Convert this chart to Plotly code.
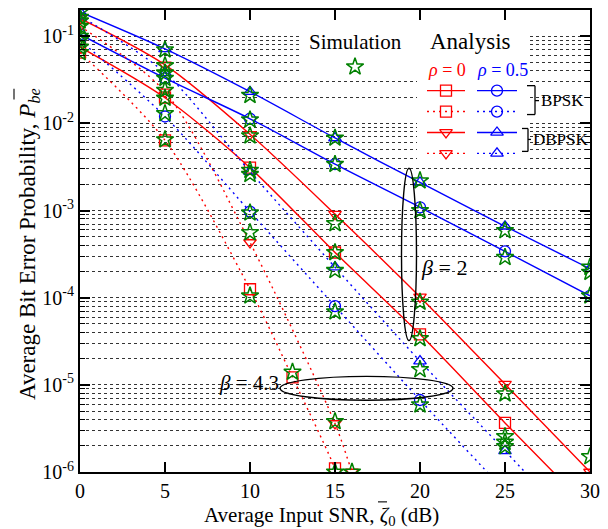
import plotly.graph_objects as go

# ---------------- data ----------------
snr = [0, 5, 10, 15, 20, 25, 30]

# beta = 2 (solid lines)
bpsk_rho0_b2 = [0.075, 0.0197, 3.1e-3, 3.3e-4, 3.8e-5, 3.66e-6, 3.7e-7]
dbpsk_rho0_b2 = [0.16, 0.047, 7.5e-3, 9.1e-4, 1.02e-4, 1.02e-5, 1.0e-6]
bpsk_rho05_b2 = [0.105, 0.033, 0.0113, 3.4e-3, 1.09e-3, 3.4e-4, 1.05e-4]
dbpsk_rho05_b2 = [0.19, 0.0716, 0.0231, 6.8e-3, 2.1e-3, 6.6e-4, 2.15e-4]

# beta = 4.3 (dotted lines)
snr_bpsk_rho0_b43 = [0, 5, 10, 12.5, 15, 17.5]
bpsk_rho0_b43 = [0.065, 6.4e-3, 1.25e-4, 1.22e-5, 1.1e-6, 6e-8]
snr_dbpsk_rho0_b43 = [0, 5, 10, 15, 16, 17.5]
dbpsk_rho0_b43 = [0.13, 0.023, 4.3e-4, 3.6e-6, 1.0e-6, 1.5e-7]
bpsk_rho05_b43 = [0.09, 0.012, 9.7e-4, 8.0e-5, 6.7e-6, 6e-7, 5e-8]
dbpsk_rho05_b43 = [0.17, 0.038, 2.8e-3, 2.24e-4, 1.87e-5, 1.75e-6, 1.6e-7]

# simulation points
sim_snr = [0, 0, 0, 0, 0, 0, 0, 0,
           5, 5, 5, 5, 5, 5, 5, 5,
           10, 10, 10, 10, 10, 10, 10, 10,
           12.5,
           15, 15, 15, 15, 15, 15, 15, 15,
           16,
           20, 20, 20, 20, 20, 20,
           25, 25, 25, 25, 25, 25,
           30, 30, 30, 30]
sim_ber = [0.19, 0.165, 0.15, 0.13, 0.1, 0.09, 0.075, 0.065,
           0.07, 0.046, 0.038, 0.033, 0.024, 0.0195, 0.013, 0.0065,
           0.021, 0.011, 7.2e-3, 2.9e-3, 2.6e-3, 9.4e-4, 5.6e-4, 1.05e-4,
           1.4e-5,
           6.8e-3, 3.4e-3, 7.1e-4, 3.3e-4, 2.06e-4, 6.9e-5, 3.8e-6, 1.0e-6,
           1.0e-6,
           2.2e-3, 1.0e-3, 8.9e-5, 3.4e-5, 1.5e-5, 5.9e-6,
           5.9e-4, 2.9e-4, 7.9e-6, 2.55e-6, 2.2e-6, 1.96e-6,
           2.24e-4, 1.96e-4, 1.05e-4, 1.5e-6]

ytick_vals = [1e-6, 1e-5, 1e-4, 1e-3, 1e-2, 1e-1]
ytick_text = ["10<sup>-6</sup>", "10<sup>-5</sup>", "10<sup>-4</sup>",
              "10<sup>-3</sup>", "10<sup>-2</sup>", "10<sup>-1</sup>"]
minor_vals = [m * d for d in ytick_vals for m in range(2, 10)]

RED = "#ff0000"
BLUE = "#0000ff"
GREEN = "#008000"
FONT = "Liberation Serif"
DOT = "2px,4px"

fig = go.Figure()


def curve(x, y, color, symbol, dash):
    fig.add_trace(go.Scatter(
        x=x, y=y, mode="lines+markers",
        line=dict(color=color, width=1.4, dash=dash, shape="spline", smoothing=0.8),
        marker=dict(symbol=symbol, size=11, color=color, line=dict(color=color, width=1.3)),
        showlegend=False, hoverinfo="skip"))


curve(snr, bpsk_rho0_b2, RED, "square-open", "solid")
curve(snr, dbpsk_rho0_b2, RED, "triangle-down-open", "solid")
curve(snr, bpsk_rho05_b2, BLUE, "circle-open", "solid")
curve(snr, dbpsk_rho05_b2, BLUE, "triangle-up-open", "solid")
curve(snr_bpsk_rho0_b43, bpsk_rho0_b43, RED, "square-open", DOT)
curve(snr_dbpsk_rho0_b43, dbpsk_rho0_b43, RED, "triangle-down-open", DOT)
curve(snr, bpsk_rho05_b43, BLUE, "circle-open", DOT)
curve(snr, dbpsk_rho05_b43, BLUE, "triangle-up-open", DOT)

fig.add_trace(go.Scatter(
    x=sim_snr, y=sim_ber, mode="markers",
    marker=dict(symbol="star-open", size=13, color=GREEN, line=dict(color=GREEN, width=1.5)),
    showlegend=False, hoverinfo="skip"))

# ---------------- hand-made legend (overlay axes in plot fractions) ----------------
L, R, T, B = 80, 590, 8, 472


def fx(px):
    return (px - L) / (R - L)


def fy(py):
    return (B - py) / (B - T)


# white boxes hiding the grid behind the legend (overlay traces sit above the grid)
for (x0, y0, x1, y1) in [(302, T - 2, 418, 76), (417, T - 2, 528, 162)]:
    fig.add_trace(go.Scatter(
        x=[fx(x0), fx(x1), fx(x1), fx(x0), fx(x0)],
        y=[fy(y0), fy(y0), fy(y1), fy(y1), fy(y0)],
        mode="lines", fill="toself", fillcolor="white", line=dict(width=0, color="white"),
        xaxis="x2", yaxis="y2", showlegend=False, hoverinfo="skip"))


def legend_sample(x0, x1, xm, py, color, symbol, dash):
    fig.add_trace(go.Scatter(
        x=[fx(x0), fx(x1)], y=[fy(py), fy(py)], mode="lines",
        line=dict(color=color, width=1.4, dash=dash),
        xaxis="x2", yaxis="y2", showlegend=False, hoverinfo="skip"))
    fig.add_trace(go.Scatter(
        x=[fx(xm)], y=[fy(py)], mode="markers",
        marker=dict(symbol=symbol, size=11, color=color, line=dict(color=color, width=1.3)),
        xaxis="x2", yaxis="y2", showlegend=False, hoverinfo="skip"))


legend_sample(427, 465, 446, 89, RED, "square-open", "solid")
legend_sample(427, 465, 446, 110, RED, "square-open", DOT)
legend_sample(427, 465, 446, 131, RED, "triangle-down-open", "solid")
legend_sample(427, 465, 446, 152, RED, "triangle-down-open", DOT)
legend_sample(477, 517, 497, 89, BLUE, "circle-open", "solid")
legend_sample(477, 517, 497, 110, BLUE, "circle-open", DOT)
legend_sample(477, 517, 497, 131, BLUE, "triangle-up-open", "solid")
legend_sample(477, 517, 497, 152, BLUE, "triangle-up-open", DOT)
fig.add_trace(go.Scatter(
    x=[fx(355)], y=[fy(65)], mode="markers",
    marker=dict(symbol="star-open", size=13, color=GREEN, line=dict(color=GREEN, width=1.5)),
    xaxis="x2", yaxis="y2", showlegend=False, hoverinfo="skip"))

shapes = []


def seg(x0, y0, x1, y1, w=1.3):
    shapes.append(dict(type="line", xref="paper", yref="paper",
                       x0=fx(x0), y0=fy(y0), x1=fx(x1), y1=fy(y1),
                       line=dict(color="black", width=w), layer="above"))


# BPSK bracket
seg(527, 84, 535, 84)
seg(535, 84, 535, 113)
seg(527, 113, 535, 113)
seg(535, 99, 539, 99)
# DBPSK bracket
seg(522, 127, 528, 127)
seg(528, 127, 528, 150)
seg(522, 150, 528, 150)
seg(528, 138, 531, 138)

# ellipses
for (x0, y0, x1, y1) in [(401.5, 167, 416.5, 340), (280, 376, 453, 400)]:
    shapes.append(dict(type="circle", xref="paper", yref="paper",
                       x0=fx(x0), x1=fx(x1), y0=fy(y1), y1=fy(y0),
                       line=dict(color="black", width=1.4), layer="above"))

annotations = []


def text(px, py, s, size, color="black", xanchor="center", angle=0):
    annotations.append(dict(xref="paper", yref="paper", x=fx(px), y=fy(py),
                            text=s, showarrow=False, xanchor=xanchor, yanchor="middle",
                            textangle=angle,
                            font=dict(family=FONT, size=size, color=color)))


text(355, 40, "Simulation", 21)
text(470, 40, "Analysis", 23)
text(447, 68, "<i>ρ</i> = 0", 18, RED)
text(502, 68, "<i>ρ</i> = 0.5", 18, BLUE)
text(539, 99, "BPSK", 17, xanchor="left")
text(531, 138, "DBPSK", 17, xanchor="left")
text(444, 267, "<i>β</i> = 2", 22)
text(249, 383, "<i>β</i> = 4.3", 21)

# axis titles (with overbars drawn as short strokes)
text(321, 516, "Average Input SNR, <i>ζ</i><sub>0</sub> (dB)", 21)
text(29, 243, "Average Bit Error Probability, <i>P</i><sub><i>be</i></sub>", 23, angle=-90)
seg(378, 502, 387, 502, w=1.1)
seg(14, 87, 14, 98, w=1.1)

fig.update_layout(
    width=608, height=529,
    margin=dict(l=80, r=18, t=8, b=57),
    paper_bgcolor="white", plot_bgcolor="white",
    font=dict(family=FONT, size=20, color="black"),
    shapes=shapes, annotations=annotations,
    xaxis=dict(range=[0, 30], dtick=5, tick0=0, showgrid=False, zeroline=False,
               showline=True, linecolor="black", linewidth=2, mirror="ticks",
               ticks="inside", ticklen=10, tickwidth=1.5, tickcolor="black",
               tickfont=dict(family=FONT, size=20)),
    yaxis=dict(type="log", range=[-6, -0.699], tickmode="array",
               tickvals=ytick_vals, ticktext=ytick_text,
               showline=True, linecolor="black", linewidth=2, mirror="ticks",
               ticks="inside", ticklen=10, tickwidth=1.5, tickcolor="black",
               tickfont=dict(family=FONT, size=20),
               showgrid=True, gridcolor="#333333", griddash="dot", gridwidth=1,
               zeroline=False,
               minor=dict(tickmode="array", tickvals=minor_vals, ticks="inside",
                          ticklen=5, tickwidth=1, tickcolor="black",
                          showgrid=True, gridcolor="#333333", griddash="dot", gridwidth=1)),
    xaxis2=dict(overlaying="x", range=[0, 1], visible=False),
    yaxis2=dict(overlaying="y", range=[0, 1], visible=False),
)

fig.write_html("out.html")
